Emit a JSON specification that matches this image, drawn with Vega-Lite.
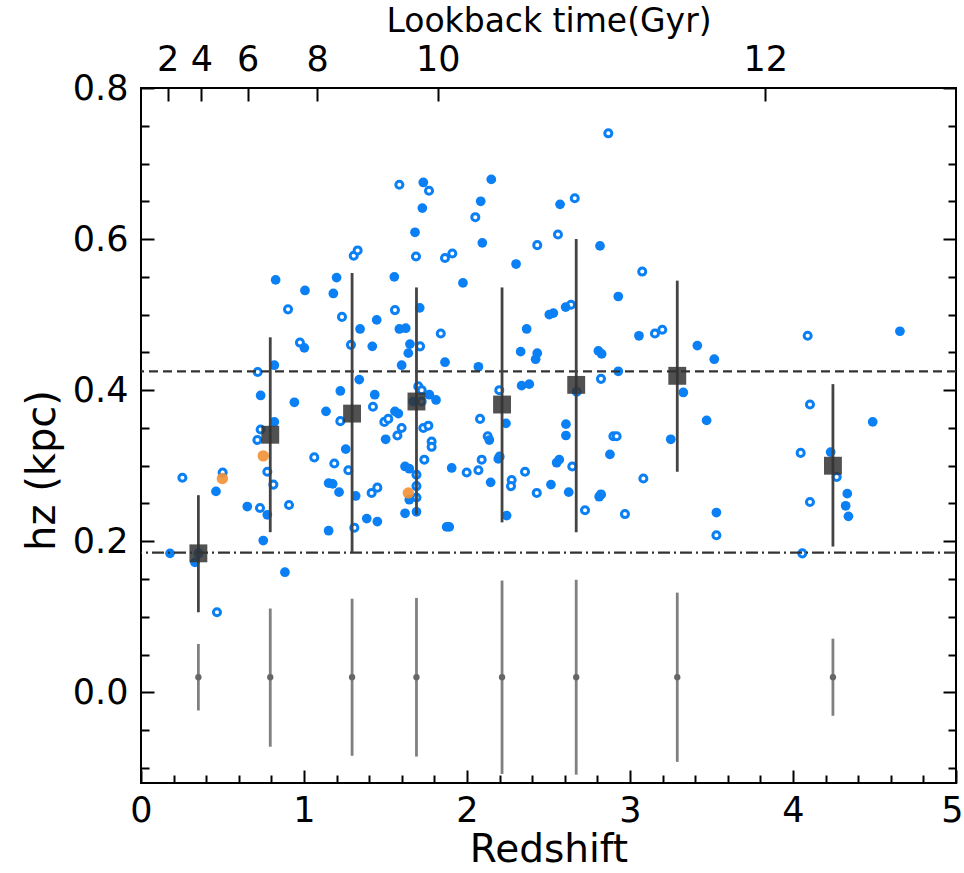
{
  "$schema": "https://vega.github.io/schema/vega-lite/v6.json",
  "width": 815,
  "height": 695,
  "autosize": {"type": "none"},
  "padding": {"left": 141, "top": 88, "right": 8, "bottom": 90},
  "background": "white",
  "config": {
    "font": "DejaVu Sans",
    "view": {"stroke": "black", "strokeWidth": 2},
    "axis": {
      "domain": false, "grid": false, "tickColor": "black", "tickWidth": 2,
      "labelFontSize": 35, "labelColor": "black", "titleFontSize": 40,
      "titleColor": "black", "titleFontWeight": "normal", "labelOverlap": false,
      "labelFlush": false, "labelBound": false
    }
  },
  "datasets": {
    "pts": [
      {"z":1.585,"h":0.672,"t":"hollow"},{"z":1.681,"h":0.609,"t":"filled"},{"z":1.687,"h":0.577,"t":"hollow"},
      {"z":0.826,"h":0.546,"t":"filled"},{"z":1.20,"h":0.549,"t":"filled"},{"z":1.305,"h":0.578,"t":"hollow"},
      {"z":1.329,"h":0.585,"t":"hollow"},{"z":1.554,"h":0.550,"t":"filled"},{"z":1.006,"h":0.532,"t":"filled"},
      {"z":1.18,"h":0.528,"t":"filled"},{"z":0.902,"h":0.507,"t":"hollow"},{"z":1.233,"h":0.497,"t":"hollow"},
      {"z":1.558,"h":0.506,"t":"hollow"},{"z":1.344,"h":0.481,"t":"filled"},{"z":1.446,"h":0.493,"t":"filled"},
      {"z":1.585,"h":0.481,"t":"filled"},{"z":1.624,"h":0.482,"t":"filled"},{"z":0.975,"h":0.463,"t":"hollow"},
      {"z":1.002,"h":0.456,"t":"filled"},{"z":1.288,"h":0.46,"t":"hollow"},{"z":1.419,"h":0.458,"t":"filled"},
      {"z":1.65,"h":0.461,"t":"filled"},
      {"z":1.64,"h":0.449,"t":"filled"},{"z":1.599,"h":0.433,"t":"filled"},{"z":0.818,"h":0.433,"t":"filled"},
      {"z":0.716,"h":0.424,"t":"hollow"},{"z":1.339,"h":0.414,"t":"filled"},{"z":0.734,"h":0.393,"t":"filled"},
      {"z":0.941,"h":0.384,"t":"filled"},{"z":1.223,"h":0.399,"t":"filled"},{"z":1.434,"h":0.394,"t":"filled"},
      {"z":1.423,"h":0.378,"t":"hollow"},{"z":1.135,"h":0.372,"t":"filled"},{"z":1.223,"h":0.359,"t":"hollow"},
      {"z":1.493,"h":0.358,"t":"hollow"},{"z":1.517,"h":0.362,"t":"hollow"},{"z":1.558,"h":0.372,"t":"filled"},
      {"z":1.579,"h":0.369,"t":"filled"},{"z":1.599,"h":0.350,"t":"hollow"},{"z":1.573,"h":0.340,"t":"hollow"},
      {"z":1.501,"h":0.335,"t":"filled"},{"z":0.818,"h":0.358,"t":"filled"},{"z":0.734,"h":0.348,"t":"hollow"},
      {"z":0.714,"h":0.334,"t":"hollow"},{"z":0.75,"h":0.313,"t":"orange"},{"z":1.256,"h":0.322,"t":"filled"},
      {"z":1.063,"h":0.311,"t":"hollow"},{"z":1.186,"h":0.303,"t":"hollow"},{"z":1.272,"h":0.294,"t":"hollow"},
      {"z":0.775,"h":0.292,"t":"hollow"},{"z":0.812,"h":0.275,"t":"hollow"},{"z":0.254,"h":0.284,"t":"hollow"},
      {"z":0.501,"h":0.291,"t":"hollow"},{"z":0.499,"h":0.283,"t":"orange"},{"z":0.46,"h":0.266,"t":"filled"},
      {"z":0.652,"h":0.246,"t":"filled"},{"z":0.73,"h":0.244,"t":"hollow"},{"z":0.775,"h":0.235,"t":"filled"},
      {"z":0.908,"h":0.248,"t":"hollow"},{"z":0.75,"h":0.201,"t":"filled"},{"z":1.151,"h":0.277,"t":"filled"},
      {"z":1.176,"h":0.276,"t":"filled"},{"z":1.215,"h":0.265,"t":"filled"},{"z":1.317,"h":0.26,"t":"filled"},
      {"z":1.415,"h":0.264,"t":"hollow"},{"z":1.45,"h":0.271,"t":"hollow"},{"z":1.62,"h":0.299,"t":"filled"},
      {"z":1.646,"h":0.296,"t":"filled"},{"z":1.69,"h":0.288,"t":"hollow"},{"z":1.64,"h":0.264,"t":"orange"},
      {"z":1.69,"h":0.273,"t":"hollow"},{"z":1.646,"h":0.255,"t":"filled"},{"z":1.69,"h":0.258,"t":"hollow"},
      {"z":1.62,"h":0.237,"t":"filled"},{"z":1.69,"h":0.239,"t":"filled"},{"z":1.385,"h":0.230,"t":"filled"},
      {"z":1.45,"h":0.226,"t":"filled"},{"z":1.151,"h":0.214,"t":"filled"},{"z":1.309,"h":0.218,"t":"hollow"},
      {"z":0.178,"h":0.184,"t":"filled"},{"z":0.352,"h":0.184,"t":"hollow"},{"z":0.331,"h":0.172,"t":"filled"},
      {"z":0.883,"h":0.159,"t":"filled"},{"z":0.466,"h":0.106,"t":"hollow"},
      {"z":1.712,"h":0.458,"t":"hollow"},{"z":1.865,"h":0.437,"t":"filled"},{"z":2.07,"h":0.431,"t":"filled"},
      {"z":2.329,"h":0.451,"t":"filled"},{"z":2.431,"h":0.449,"t":"filled"},{"z":2.421,"h":0.441,"t":"filled"},
      {"z":2.806,"h":0.452,"t":"filled"},{"z":2.826,"h":0.448,"t":"filled"},{"z":2.928,"h":0.425,"t":"filled"},
      {"z":2.822,"h":0.415,"t":"hollow"},{"z":2.198,"h":0.400,"t":"hollow"},{"z":2.335,"h":0.406,"t":"filled"},
      {"z":2.382,"h":0.408,"t":"filled"},{"z":1.701,"h":0.405,"t":"hollow"},{"z":1.722,"h":0.40,"t":"hollow"},
      {"z":1.769,"h":0.394,"t":"filled"},{"z":1.81,"h":0.387,"t":"filled"},{"z":1.67,"h":0.385,"t":"filled"},
      {"z":1.722,"h":0.385,"t":"hollow"},{"z":2.673,"h":0.398,"t":"hollow"},{"z":2.08,"h":0.362,"t":"hollow"},
      {"z":2.239,"h":0.356,"t":"filled"},{"z":1.732,"h":0.35,"t":"hollow"},{"z":1.763,"h":0.353,"t":"hollow"},
      {"z":1.783,"h":0.332,"t":"hollow"},{"z":1.783,"h":0.325,"t":"hollow"},{"z":1.738,"h":0.308,"t":"hollow"},
      {"z":2.127,"h":0.339,"t":"hollow"},{"z":2.137,"h":0.334,"t":"filled"},{"z":2.607,"h":0.355,"t":"filled"},
      {"z":2.607,"h":0.340,"t":"filled"},{"z":2.898,"h":0.339,"t":"hollow"},{"z":2.918,"h":0.339,"t":"hollow"},
      {"z":2.877,"h":0.315,"t":"filled"},{"z":3.25,"h":0.335,"t":"filled"},{"z":2.192,"h":0.309,"t":"filled"},
      {"z":2.2,"h":0.312,"t":"hollow"},{"z":2.09,"h":0.308,"t":"hollow"},{"z":2.07,"h":0.294,"t":"hollow"},
      {"z":1.998,"h":0.291,"t":"hollow"},{"z":1.906,"h":0.297,"t":"filled"},{"z":2.145,"h":0.278,"t":"filled"},
      {"z":2.274,"h":0.281,"t":"hollow"},{"z":2.27,"h":0.273,"t":"hollow"},{"z":2.356,"h":0.292,"t":"hollow"},
      {"z":2.428,"h":0.264,"t":"hollow"},{"z":2.515,"h":0.275,"t":"filled"},{"z":2.55,"h":0.304,"t":"filled"},
      {"z":2.566,"h":0.308,"t":"filled"},{"z":2.646,"h":0.299,"t":"hollow"},{"z":2.624,"h":0.265,"t":"filled"},
      {"z":2.724,"h":0.241,"t":"hollow"},{"z":2.811,"h":0.259,"t":"filled"},{"z":2.822,"h":0.262,"t":"hollow"},
      {"z":2.969,"h":0.236,"t":"hollow"},{"z":3.082,"h":0.283,"t":"hollow"},{"z":2.243,"h":0.234,"t":"filled"},
      {"z":1.875,"h":0.219,"t":"filled"},{"z":1.891,"h":0.219,"t":"filled"},
      {"z":2.867,"h":0.740,"t":"hollow"},{"z":1.732,"h":0.675,"t":"filled"},{"z":1.767,"h":0.664,"t":"hollow"},
      {"z":1.726,"h":0.641,"t":"filled"},{"z":2.149,"h":0.679,"t":"filled"},{"z":2.084,"h":0.650,"t":"filled"},
      {"z":2.051,"h":0.629,"t":"hollow"},{"z":1.865,"h":0.575,"t":"hollow"},{"z":1.91,"h":0.581,"t":"hollow"},
      {"z":2.094,"h":0.595,"t":"filled"},{"z":1.975,"h":0.542,"t":"filled"},{"z":2.301,"h":0.567,"t":"filled"},
      {"z":2.431,"h":0.592,"t":"hollow"},{"z":2.558,"h":0.606,"t":"hollow"},{"z":2.571,"h":0.646,"t":"filled"},
      {"z":2.661,"h":0.654,"t":"hollow"},{"z":2.816,"h":0.591,"t":"filled"},{"z":3.075,"h":0.557,"t":"hollow"},
      {"z":2.928,"h":0.524,"t":"filled"},{"z":1.71,"h":0.509,"t":"filled"},{"z":1.839,"h":0.475,"t":"hollow"},
      {"z":2.366,"h":0.481,"t":"filled"},{"z":2.505,"h":0.50,"t":"filled"},{"z":2.53,"h":0.502,"t":"filled"},
      {"z":2.605,"h":0.51,"t":"filled"},{"z":2.638,"h":0.513,"t":"hollow"},{"z":3.055,"h":0.472,"t":"filled"},
      {"z":3.153,"h":0.475,"t":"hollow"},{"z":3.198,"h":0.48,"t":"hollow"},
      {"z":3.413,"h":0.459,"t":"filled"},{"z":4.09,"h":0.472,"t":"hollow"},{"z":4.656,"h":0.478,"t":"filled"},
      {"z":3.517,"h":0.441,"t":"filled"},{"z":3.327,"h":0.397,"t":"filled"},{"z":3.47,"h":0.36,"t":"filled"},
      {"z":4.104,"h":0.381,"t":"hollow"},{"z":4.489,"h":0.358,"t":"filled"},{"z":4.047,"h":0.317,"t":"hollow"},
      {"z":4.231,"h":0.318,"t":"filled"},{"z":4.268,"h":0.285,"t":"hollow"},{"z":4.333,"h":0.263,"t":"filled"},
      {"z":4.323,"h":0.247,"t":"filled"},{"z":4.34,"h":0.233,"t":"filled"},{"z":4.104,"h":0.252,"t":"hollow"},
      {"z":3.53,"h":0.238,"t":"filled"},{"z":3.53,"h":0.208,"t":"hollow"},{"z":4.057,"h":0.184,"t":"hollow"}
    ],
    "bins": [
      {"z":0.352,"mean":0.184,"lo":0.106,"hi":0.261},
      {"z":0.793,"mean":0.341,"lo":0.212,"hi":0.470},
      {"z":1.295,"mean":0.369,"lo":0.185,"hi":0.555},
      {"z":1.69,"mean":0.385,"lo":0.235,"hi":0.536},
      {"z":2.215,"mean":0.381,"lo":0.225,"hi":0.536},
      {"z":2.67,"mean":0.407,"lo":0.212,"hi":0.600},
      {"z":3.29,"mean":0.419,"lo":0.292,"hi":0.545},
      {"z":4.245,"mean":0.300,"lo":0.193,"hi":0.408}
    ],
    "noise": [
      {"z":0.352,"h":0.02,"lo":-0.024,"hi":0.064},
      {"z":0.793,"h":0.02,"lo":-0.072,"hi":0.111},
      {"z":1.295,"h":0.02,"lo":-0.084,"hi":0.124},
      {"z":1.69,"h":0.02,"lo":-0.085,"hi":0.125},
      {"z":2.215,"h":0.02,"lo":-0.108,"hi":0.148},
      {"z":2.67,"h":0.02,"lo":-0.109,"hi":0.149},
      {"z":3.29,"h":0.02,"lo":-0.092,"hi":0.132},
      {"z":4.245,"h":0.02,"lo":-0.031,"hi":0.071}
    ],
    "refs": [{"h":0.425,"kind":"dashed"},{"h":0.185,"kind":"dashdot"}]
  },
  "resolve": {"axis": {"x": "independent", "y": "independent"}},
  "layer": [
    {
      "data": {"name": "pts"},
      "transform": [{"filter": "datum.t === 'hollow'"}],
      "mark": {"type": "point", "shape": "circle", "filled": false, "fill": "white", "fillOpacity": 1, "stroke": "#0b80f5", "strokeWidth": 3, "size": 50, "opacity": 1},
      "encoding": {
        "x": {"field": "z", "type": "quantitative", "scale": {"domain": [0, 5], "nice": false, "zero": false},
          "axis": {"orient": "bottom", "title": "Redshift", "titleFontSize": 39, "titlePadding": -3,
            "values": [0,0.2,0.4,0.6,0.8,1,1.2,1.4,1.6,1.8,2,2.2,2.4,2.6,2.8,3,3.2,3.4,3.6,3.8,4,4.2,4.4,4.6,4.8,5],
            "labelExpr": "abs(datum.value - round(datum.value)) < 0.001 ? format(datum.value, 'd') : ''",
            "tickSize": {"condition": {"test": "abs(datum.value - round(datum.value)) < 0.001", "value": -13}, "value": -8},
            "labelOffset": {"condition": {"test": "datum.value > 4.9", "value": -4}, "value": 0},
            "labelPadding": 23}},
        "y": {"field": "h", "type": "quantitative", "scale": {"domain": [-0.12, 0.8], "nice": false, "zero": false},
          "axis": {"orient": "left", "title": "hz (kpc)", "titleX": -99, "titleY": 382, "titleBaseline": "middle", "titleAngle": 270,
            "values": [-0.1,-0.05,0,0.05,0.1,0.15,0.2,0.25,0.3,0.35,0.4,0.45,0.5,0.55,0.6,0.65,0.7,0.75,0.8],
            "labelExpr": "abs(datum.value*5 - round(datum.value*5)) < 0.001 ? format(datum.value, '.1f') : ''",
            "tickSize": {"condition": {"test": "abs(datum.value*5 - round(datum.value*5)) < 0.001", "value": -13}, "value": -8},
            "labelPadding": 26}}
      }
    },
    {
      "data": {"name": "pts"},
      "transform": [{"filter": "datum.t === 'filled'"}],
      "mark": {"type": "circle", "color": "#0b80f5", "size": 95, "opacity": 1},
      "encoding": {
        "x": {"field": "z", "type": "quantitative", "scale": {"domain": [0, 5], "nice": false, "zero": false},
          "axis": {"orient": "top", "title": "Lookback time(Gyr)", "titleFontSize": 33, "titlePadding": 4,
            "values": [0.163, 0.37, 0.655, 1.08, 1.82, 3.83],
            "labelExpr": "datum.value < 0.2 ? '2' : datum.value < 0.5 ? '4' : datum.value < 0.8 ? '6' : datum.value < 1.5 ? '8' : datum.value < 2.5 ? '10' : '12'",
            "tickSize": -13, "labelPadding": 24}},
        "y": {"field": "h", "type": "quantitative", "scale": {"domain": [-0.12, 0.8], "nice": false, "zero": false},
          "axis": {"orient": "right", "title": null, "labels": false,
            "values": [-0.1,-0.05,0,0.05,0.1,0.15,0.2,0.25,0.3,0.35,0.4,0.45,0.5,0.55,0.6,0.65,0.7,0.75,0.8],
            "tickSize": {"condition": {"test": "abs(datum.value*5 - round(datum.value*5)) < 0.001", "value": -13}, "value": -8}}}
      }
    },
    {
      "data": {"name": "pts"},
      "transform": [{"filter": "datum.t === 'orange'"}],
      "mark": {"type": "circle", "color": "#f39237", "size": 130, "opacity": 0.92},
      "encoding": {
        "x": {"field": "z", "type": "quantitative", "scale": {"domain": [0, 5], "nice": false, "zero": false}, "axis": null},
        "y": {"field": "h", "type": "quantitative", "scale": {"domain": [-0.12, 0.8], "nice": false, "zero": false}, "axis": null}
      }
    },
    {
      "data": {"name": "refs"},
      "transform": [{"filter": "datum.kind === 'dashed'"}],
      "mark": {"type": "rule", "color": "#333333", "strokeWidth": 2.2, "strokeDash": [9, 5]},
      "encoding": {
        "y": {"field": "h", "type": "quantitative", "scale": {"domain": [-0.12, 0.8], "nice": false, "zero": false}, "axis": null}
      }
    },
    {
      "data": {"name": "refs"},
      "transform": [{"filter": "datum.kind === 'dashdot'"}],
      "mark": {"type": "rule", "color": "#333333", "strokeWidth": 2.2, "strokeDash": [12, 4, 2, 4]},
      "encoding": {
        "y": {"field": "h", "type": "quantitative", "scale": {"domain": [-0.12, 0.8], "nice": false, "zero": false}, "axis": null}
      }
    },
    {
      "data": {"name": "bins"},
      "mark": {"type": "rule", "color": "#444444", "strokeWidth": 2.8},
      "encoding": {
        "x": {"field": "z", "type": "quantitative", "scale": {"domain": [0, 5], "nice": false, "zero": false}, "axis": null},
        "y": {"field": "lo", "type": "quantitative", "scale": {"domain": [-0.12, 0.8], "nice": false, "zero": false}, "axis": null},
        "y2": {"field": "hi"}
      }
    },
    {
      "data": {"name": "bins"},
      "mark": {"type": "square", "color": "#333333", "size": 320, "opacity": 0.85},
      "encoding": {
        "x": {"field": "z", "type": "quantitative", "scale": {"domain": [0, 5], "nice": false, "zero": false}, "axis": null},
        "y": {"field": "mean", "type": "quantitative", "scale": {"domain": [-0.12, 0.8], "nice": false, "zero": false}, "axis": null}
      }
    },
    {
      "data": {"name": "noise"},
      "mark": {"type": "rule", "color": "#808080", "strokeWidth": 2.8},
      "encoding": {
        "x": {"field": "z", "type": "quantitative", "scale": {"domain": [0, 5], "nice": false, "zero": false}, "axis": null},
        "y": {"field": "lo", "type": "quantitative", "scale": {"domain": [-0.12, 0.8], "nice": false, "zero": false}, "axis": null},
        "y2": {"field": "hi"}
      }
    },
    {
      "data": {"name": "noise"},
      "mark": {"type": "circle", "color": "#666666", "size": 40, "opacity": 1},
      "encoding": {
        "x": {"field": "z", "type": "quantitative", "scale": {"domain": [0, 5], "nice": false, "zero": false}, "axis": null},
        "y": {"field": "h", "type": "quantitative", "scale": {"domain": [-0.12, 0.8], "nice": false, "zero": false}, "axis": null}
      }
    }
  ]
}
